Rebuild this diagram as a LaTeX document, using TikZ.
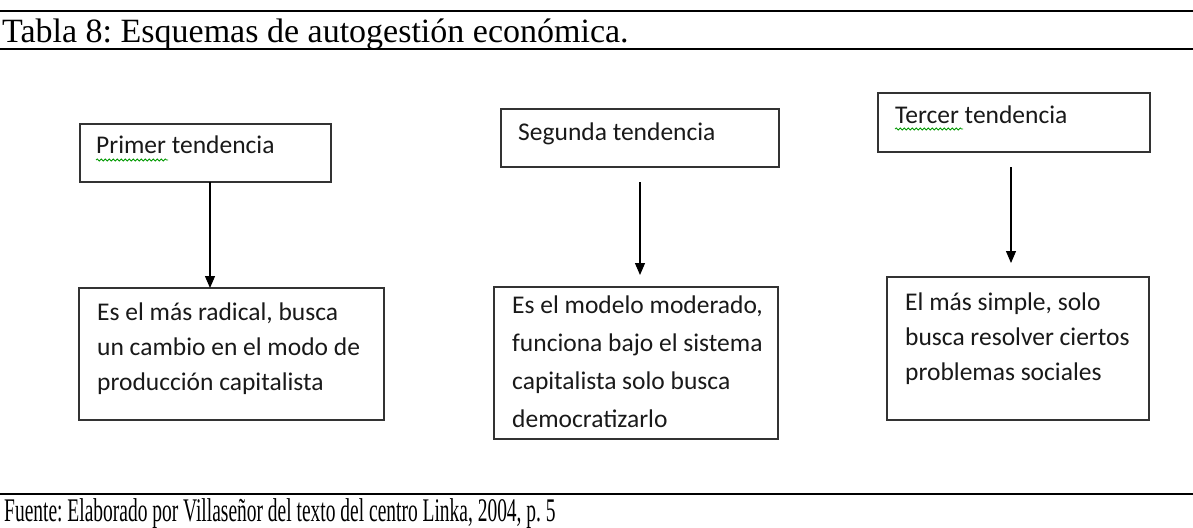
\documentclass[tikz,border=0pt]{standalone}
\usepackage{fontspec}
\setmainfont{Liberation Serif}
\newfontfamily\boxfont{Carlito}
\usetikzlibrary{arrows.meta,decorations.pathmorphing}
\frenchspacing
\begin{document}
\begin{tikzpicture}[x=1pt,y=-1pt,
 rule/.style={line width=2.2pt,black},
 box/.style={draw=black!80,line width=1.4pt,anchor=north west,inner sep=0pt,outer sep=0pt},
 txt/.style={anchor=base west,inner sep=0pt,font=\boxfont\fontsize{25.5}{35}\selectfont,align=left,text=black!90},
 arr/.style={line width=1.2pt,-{Triangle[length=12pt,width=10pt]}},
 squig/.style={draw=green!60!black,line width=0.8pt,decorate,decoration={snake,segment length=4pt,amplitude=1pt}},
 serif/.style={anchor=base west,inner sep=0pt,font=\fontsize{33}{35}\selectfont}]
\useasboundingbox[fill=white] (0,0) rectangle (1193,527);
% rules
\coordinate (rl1) at (0,11); \coordinate (rr1) at (1193,11);
\coordinate (rl2) at (0,49); \coordinate (rr2) at (1193,49);
\coordinate (rl3) at (0,494); \coordinate (rr3) at (1193,494);
\draw[rule] (rl1) -- (rr1);
\draw[rule] (rl2) -- (rr2);
\draw[rule] (rl3) -- (rr3);
\node[serif,font=\fontsize{34}{36}\selectfont] (title) at (2,43) {Tabla 8: Esquemas de autogestión económica.};
\node[serif] (src) at (4,521) {\scalebox{0.59}[1]{Fuente: Elaborado por Villaseñor del texto del centro Linka, 2004, p. 5}};
% top boxes
\node[box,minimum width=251pt,minimum height=58pt] (p1) at (80,124) {};
\node[box,minimum width=278pt,minimum height=58pt] (p2) at (501,109) {};
\node[box,minimum width=272pt,minimum height=59pt] (p3) at (878,93) {};
\node[txt] (t1) at (96,153) {Primer tendencia};
\node[txt] (t2) at (518,140) {Segunda tendencia};
\node[txt] (t3) at (895,123) {Tercer tendencia};
\draw[squig] (96,160) -- (168,160);
\draw[squig] (895,129) -- (963,129);
% bottom boxes
\node[box,minimum width=305pt,minimum height=132pt] (q1) at (79,288) {};
\node[box,minimum width=284pt,minimum height=152pt] (q2) at (494,287) {};
\node[box,minimum width=262pt,minimum height=143pt] (q3) at (887,277) {};
\node[txt] (u1) at (97,390) {Es el más radical, busca\\un cambio en el modo de\\producción capitalista};
\node[txt,font=\boxfont\fontsize{25.5}{38}\selectfont] (u2) at (512,427) {Es el modelo moderado,\\funciona bajo el sistema\\capitalista solo busca\\democratizarlo};
\node[txt] (u3) at (905,380) {El más simple, solo\\busca resolver ciertos\\problemas sociales};
% arrows
\coordinate (x1) at (210,0);
\draw[arr] (p1.south -| x1) -- (q1.north -| x1);
\coordinate (a2s) at (640,182); \coordinate (a2e) at (640,275);
\draw[arr] (a2s) -- (a2e);
\coordinate (a3s) at (1011,167); \coordinate (a3e) at (1011,263);
\draw[arr] (a3s) -- (a3e);
\end{tikzpicture}
\end{document}
